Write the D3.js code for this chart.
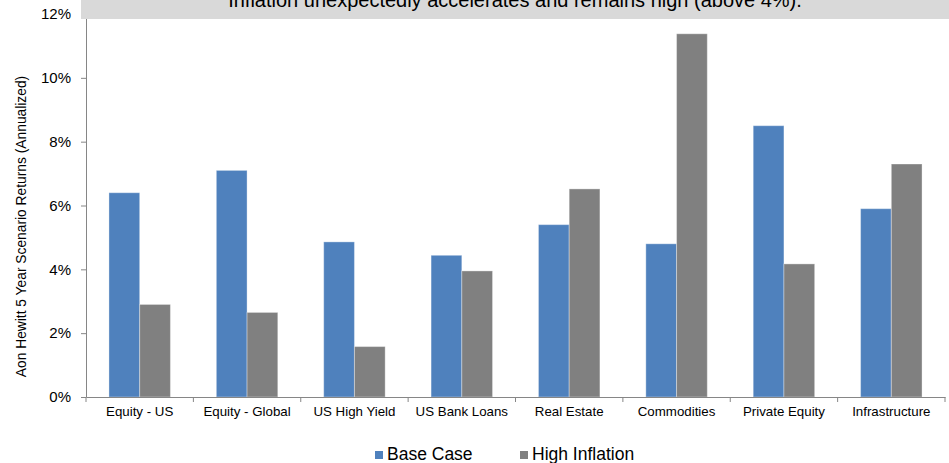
<!DOCTYPE html>
<html>
<head>
<meta charset="utf-8">
<script src="https://cdn.jsdelivr.net/npm/d3@7"></script>
<style>
  html, body { margin: 0; padding: 0; background: #fff; }
  svg { display: block; font-family: "Liberation Sans", Arial, sans-serif; }
</style>
</head>
<body>
<svg id="chart" width="949" height="463"></svg>
<script>
// Asset classes and 5-year annualized scenario returns (%)
const categories = ["Equity - US", "Equity - Global", "US High Yield", "US Bank Loans",
                    "Real Estate", "Commodities", "Private Equity", "Infrastructure"];
const seriesNames = ["Base Case", "High Inflation"];
const baseCase = [6.4, 7.1, 4.86, 4.44, 5.4, 4.8, 8.5, 5.9];
const highInflation = [2.9, 2.65, 1.58, 3.95, 6.52, 11.38, 4.17, 7.3];
const yTicks = [0, 2, 4, 6, 8, 10, 12];
const seriesColors = ["#4F81BD", "#808080"];
const scenarioNote = "Inflation unexpectedly accelerates and remains high (above 4%).";
const yTitle = "Aon Hewitt 5 Year Scenario Returns (Annualized)";

const svg = d3.select("#chart");
const margin = { left: 86, right: 4, top: 14, bottom: 66 };
const W = 949, H = 463;

const x0 = d3.scaleBand().domain(categories)
  .range([margin.left, W - margin.right]).paddingInner(0).paddingOuter(0);
const x1 = d3.scaleBand().domain(seriesNames)
  .range([0, x0.bandwidth()]).paddingOuter(0.747).paddingInner(0);
const y = d3.scaleLinear().domain([0, 12]).range([H - margin.bottom, margin.top]);

const rows = categories.map((c, i) => ({ cat: c, vals: [baseCase[i], highInflation[i]] }));

// Bars
const groups = svg.append("g").selectAll("g").data(rows).join("g")
  .attr("transform", d => `translate(${x0(d.cat)},0)`);
groups.selectAll("rect").data(d => d.vals.map((v, j) => ({ v, j })))
  .join("rect")
  .attr("x", d => x1(seriesNames[d.j]))
  .attr("width", x1.bandwidth())
  .attr("y", d => y(d.v))
  .attr("height", d => y(0) - y(d.v))
  .attr("fill", d => seriesColors[d.j])
  .attr("stroke", "rgba(255,255,255,0.35)")
  .attr("stroke-width", 1);

// Y axis
const yAxis = d3.axisLeft(y).tickValues(yTicks).tickFormat(d => d + "%")
  .tickSize(5).tickSizeOuter(0).tickPadding(10);
const gy = svg.append("g").attr("transform", `translate(${margin.left},0)`).call(yAxis);
gy.select(".domain").attr("stroke", "#868686");
gy.selectAll(".tick line").attr("stroke", "#868686");
gy.selectAll(".tick text").attr("font-size", "15px").attr("fill", "#000")
  .attr("font-family", "Liberation Sans, Arial, sans-serif");

// X axis with tick marks at the category boundaries
const xAxis = d3.axisBottom(x0).tickSize(0).tickPadding(10);
const gx = svg.append("g").attr("transform", `translate(0,${y(0)})`).call(xAxis);
gx.select(".domain").attr("stroke", "#868686");
gx.selectAll(".tick text").attr("font-size", "13.3px").attr("fill", "#000")
  .attr("font-family", "Liberation Sans, Arial, sans-serif");
const bounds = categories.map(c => x0(c)).concat([x0.range()[1]]);
gx.selectAll("line.sep").data(bounds).join("line").attr("class", "sep")
  .attr("x1", d => d).attr("x2", d => d).attr("y1", 0).attr("y2", 5)
  .attr("stroke", "#868686");

// Y axis title
svg.append("text")
  .attr("transform", `translate(22,${(y(0) + y(12)) / 2 + 21}) rotate(-90)`)
  .attr("text-anchor", "middle").attr("dominant-baseline", "middle")
  .attr("font-size", "13.8px").attr("fill", "#000").text(yTitle);

// Scenario description banner
svg.append("rect").attr("x", 81).attr("y", 0).attr("width", W - 81).attr("height", 19)
  .attr("fill", "#D9D9D9");
svg.append("text").attr("x", (81 + W) / 2).attr("y", 6.5)
  .attr("text-anchor", "middle").attr("font-size", "20px").attr("fill", "#000")
  .text(scenarioNote);

// Legend
const legendX = [375, 520];
const lg = svg.append("g").selectAll("g").data(seriesNames).join("g")
  .attr("transform", (d, i) => `translate(${legendX[i]},451)`);
lg.append("rect").attr("width", 8).attr("height", 8).attr("fill", (d, i) => seriesColors[i]);
lg.append("text").attr("x", 12).attr("y", 4).attr("dominant-baseline", "middle")
  .attr("font-size", "17.5px").attr("fill", "#000").text(d => d);
</script>
</body>
</html>
